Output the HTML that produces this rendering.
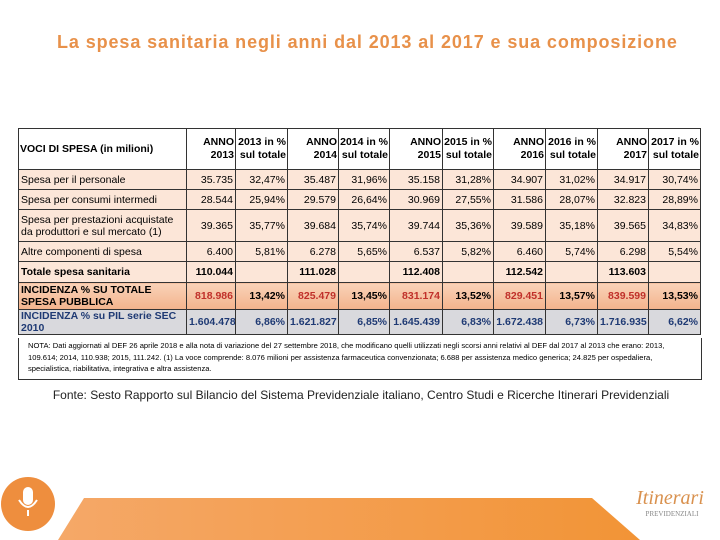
<!DOCTYPE html>
<html><head><meta charset="utf-8"><style>
body{margin:0;width:720px;height:540px;position:relative;background:#fff;font-family:"Liberation Sans",sans-serif;overflow:hidden}
#title{position:absolute;left:57px;width:630px;top:32px;text-align:left;color:#e8914a;font-size:18px;font-weight:bold;letter-spacing:0.9px;white-space:nowrap}
table{position:absolute;left:18px;top:128px;width:682px;border-collapse:collapse;table-layout:fixed;font-size:10.5px}
td{border:1px solid #333;padding:0 2px;text-align:right;white-space:nowrap;overflow:hidden}
td.l{text-align:left;white-space:normal;line-height:12px}
tr.h td{background:#fff;font-weight:bold;line-height:13px;font-size:10.5px;padding:0 1px}
tr.b td{background:#fce6d8}
tr.t td{background:#fce6d8;font-weight:bold}
tr.s td{background:linear-gradient(#f9d2b8,#f3b38c);font-weight:bold}
tr.s td.r{color:#c0302a}
tr.p td{background:#d9d9dd;font-weight:bold;color:#1f3a74}
#nota{position:absolute;left:18px;top:338px;width:664px;height:37px;border:1px solid #333;border-top:none;padding:2px 9px;font-size:7.6px;line-height:11.5px}
#fonte{position:absolute;left:0;width:722px;top:388px;text-align:center;font-size:12px;color:#222}
</style></head><body>
<div id="title">La spesa sanitaria negli anni dal 2013 al 2017 e sua composizione</div>
<table>
<colgroup><col style="width:168px"><col style="width:49px"><col style="width:52px"><col style="width:51px"><col style="width:51px"><col style="width:53px"><col style="width:51px"><col style="width:52px"><col style="width:52px"><col style="width:51px"><col style="width:52px"></colgroup>
<tr class="h" style="height:41px"><td class="l">VOCI DI SPESA (in milioni)</td><td>ANNO<br>2013</td><td>2013 in %<br>sul totale</td><td>ANNO<br>2014</td><td>2014 in %<br>sul totale</td><td>ANNO<br>2015</td><td>2015 in %<br>sul totale</td><td>ANNO<br>2016</td><td>2016 in %<br>sul totale</td><td>ANNO<br>2017</td><td>2017 in %<br>sul totale</td></tr>
<tr class="b" style="height:20px"><td class="l">Spesa per il personale</td><td>35.735</td><td>32,47%</td><td>35.487</td><td>31,96%</td><td>35.158</td><td>31,28%</td><td>34.907</td><td>31,02%</td><td>34.917</td><td>30,74%</td></tr>
<tr class="b" style="height:20px"><td class="l">Spesa per consumi intermedi</td><td>28.544</td><td>25,94%</td><td>29.579</td><td>26,64%</td><td>30.969</td><td>27,55%</td><td>31.586</td><td>28,07%</td><td>32.823</td><td>28,89%</td></tr>
<tr class="b" style="height:32px"><td class="l">Spesa per prestazioni acquistate da produttori e sul mercato (1)</td><td>39.365</td><td>35,77%</td><td>39.684</td><td>35,74%</td><td>39.744</td><td>35,36%</td><td>39.589</td><td>35,18%</td><td>39.565</td><td>34,83%</td></tr>
<tr class="b" style="height:20px"><td class="l">Altre componenti di spesa</td><td>6.400</td><td>5,81%</td><td>6.278</td><td>5,65%</td><td>6.537</td><td>5,82%</td><td>6.460</td><td>5,74%</td><td>6.298</td><td>5,54%</td></tr>
<tr class="t" style="height:21px"><td class="l">Totale spesa sanitaria</td><td>110.044</td><td></td><td>111.028</td><td></td><td>112.408</td><td></td><td>112.542</td><td></td><td>113.603</td><td></td></tr>
<tr class="s" style="height:27px"><td class="l">INCIDENZA % SU TOTALE SPESA PUBBLICA</td><td class="r">818.986</td><td>13,42%</td><td class="r">825.479</td><td>13,45%</td><td class="r">831.174</td><td>13,52%</td><td class="r">829.451</td><td>13,57%</td><td class="r">839.599</td><td>13,53%</td></tr>
<tr class="p" style="height:21px"><td class="l">INCIDENZA % su PIL serie SEC 2010</td><td>1.604.478</td><td>6,86%</td><td>1.621.827</td><td>6,85%</td><td>1.645.439</td><td>6,83%</td><td>1.672.438</td><td>6,73%</td><td>1.716.935</td><td>6,62%</td></tr>
</table>
<div id="nota">NOTA: Dati aggiornati al DEF 26 aprile 2018 e alla nota di variazione del 27 settembre 2018, che modificano quelli utilizzati negli scorsi anni relativi al DEF dal 2017 al 2013 che erano: 2013, 109.614; 2014, 110.938; 2015, 111.242. (1) La voce comprende: 8.076 milioni per assistenza farmaceutica convenzionata; 6.688 per assistenza medico generica; 24.825 per ospedaliera, specialistica, riabilitativa, integrativa e altra assistenza.</div>
<div id="fonte">Fonte: Sesto Rapporto sul Bilancio del Sistema Previdenziale italiano, Centro Studi e Ricerche Itinerari Previdenziali</div>
<svg style="position:absolute;left:0;top:470px" width="720" height="70">
<defs><linearGradient id="g" x1="0" x2="1"><stop offset="0" stop-color="#f5a868"/><stop offset="1" stop-color="#f29436"/></linearGradient></defs>
<polygon points="84,28 592,28 640,70 58,70" fill="url(#g)"/>
<circle cx="28" cy="34" r="27" fill="#ee8e3e"/>
<rect x="23" y="17" width="10" height="18" rx="5" fill="#fff"/>
<path d="M19 30 q9 14 18 0" stroke="#fff" stroke-width="2" fill="none"/>
<line x1="28" y1="40" x2="28" y2="46" stroke="#fff" stroke-width="2"/>
<text x="670" y="34" font-family="Liberation Serif" font-style="italic" font-size="20" fill="#d9914e" text-anchor="middle">Itinerari</text>
<text x="672" y="46" font-family="Liberation Serif" font-size="7" fill="#888" text-anchor="middle">PREVIDENZIALI</text>
</svg>
</body></html>
